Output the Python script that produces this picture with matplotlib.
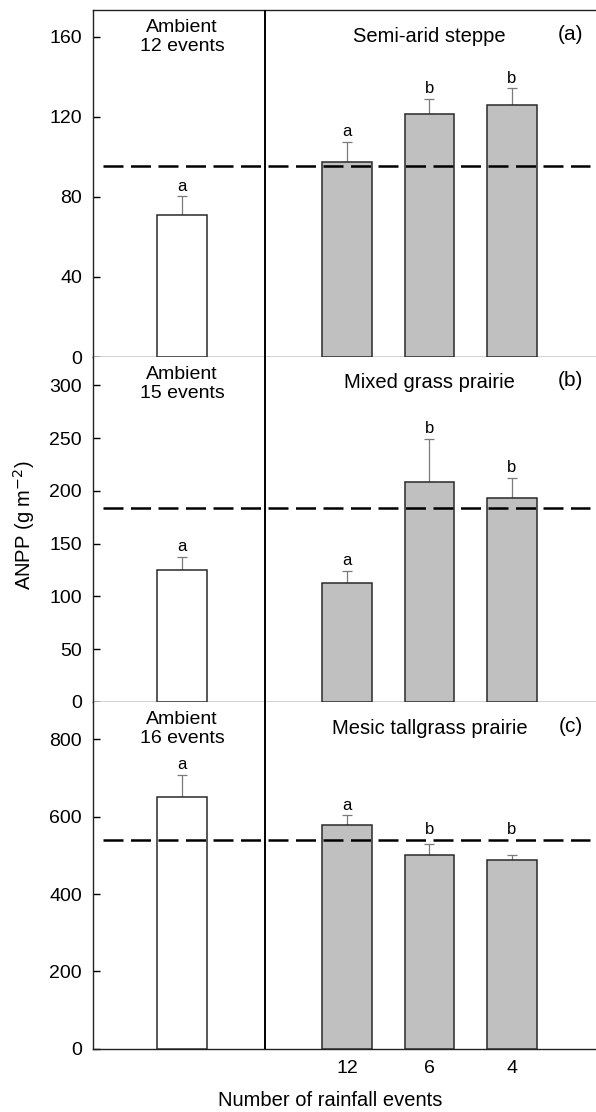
import matplotlib
matplotlib.use("Agg")
import matplotlib.pyplot as plt

plt.rcParams["font.family"] = ["Liberation Sans", "DejaVu Sans"]

# values
sites = ["Semi-arid steppe", "Mixed grass prairie", "Mesic tallgrass prairie"]
panel_tags = ["(a)", "(b)", "(c)"]
ambient_events = [12, 15, 16]
ambient_mean = [70.8, 125.2, 650.3]
ambient_se = [9.5, 12.0, 58.7]
ambient_letter = ["a", "a", "a"]
treatment_events = ["12", "6", "4"]
treatment_mean = [[97.2, 121.2, 126.0],
                  [112.6, 208.4, 193.2],
                  [579.5, 500.0, 488.0]]
treatment_se = [[10.3, 7.6, 8.2],
                [11.6, 41.0, 19.0],
                [24.0, 29.5, 13.8]]
treatment_letters = [["a", "b", "b"],
                     ["a", "b", "b"],
                     ["a", "b", "b"]]
baseline = [95.3, 183.7, 540.7]
y_top = [173.4, 327.0, 897.0]
y_ticks = [[0, 40, 80, 120, 160],
           [0, 50, 100, 150, 200, 250, 300],
           [0, 200, 400, 600, 800]]

W, H = 596, 1112
fig = plt.figure(figsize=(W / 100, H / 100), dpi=100)

# panel boxes in pixels (top, bottom)
rows = [(10, 357), (357, 702), (702, 1048.7)]
left_px = 93
px_per_pt = 100 / 72.0

edge = "#2a2a2a"
for i, (top, bottom) in enumerate(rows):
    ax = fig.add_axes([left_px / W, 1 - bottom / H,
                       (W - left_px) / W, (bottom - top) / H])
    ax.set_xlim(-1.08, 5.02)
    ax.set_ylim(0, y_top[i])

    # ambient bar
    ax.bar([0], [ambient_mean[i]], width=0.6, color="white",
           edgecolor=edge, linewidth=1.1, zorder=3)
    ax.errorbar([0], [ambient_mean[i]], yerr=[[0], [ambient_se[i]]],
                fmt="none", ecolor="#7a7a7a", elinewidth=0.9,
                capsize=3.5, capthick=0.9, zorder=2)

    # treatment bars
    pos = [2, 3, 4]
    ax.bar(pos, treatment_mean[i], width=0.6, color="#c0c0c0",
           edgecolor=edge, linewidth=1.1, zorder=3)
    ax.errorbar(pos, treatment_mean[i],
                yerr=[[0, 0, 0], treatment_se[i]],
                fmt="none", ecolor="#7a7a7a", elinewidth=0.9,
                capsize=3.5, capthick=0.9, zorder=2)

    # letters
    ax.annotate(ambient_letter[i],
                (0, ambient_mean[i] + ambient_se[i]),
                xytext=(0, 2), textcoords="offset points",
                ha="center", va="bottom", fontsize=12)
    for p, m, s, lab in zip(pos, treatment_mean[i], treatment_se[i],
                            treatment_letters[i]):
        y = m + s
        if y < baseline[i] and baseline[i] - y < 0.06 * y_top[i]:
            y = baseline[i]
        ax.annotate(lab, (p, y), xytext=(0, 2),
                    textcoords="offset points",
                    ha="center", va="bottom", fontsize=12)

    # long-term mean line and divider
    ax.hlines(baseline[i], -0.96, 4.95, colors="black", linewidth=1.8,
              linestyles=(0, (8, 3)), zorder=4)
    ax.axvline(1.0, color="black", linewidth=1.4, zorder=5)

    # labels inside the panel
    ax.annotate("Ambient\n%d events" % ambient_events[i], (0, 1),
                xycoords=("data", "axes fraction"),
                xytext=(0, -27 / px_per_pt), textcoords="offset points",
                ha="center", va="center", fontsize=14, linespacing=1.1)
    ax.annotate(sites[i], (3, 1), xycoords=("data", "axes fraction"),
                xytext=(0, -26 / px_per_pt), textcoords="offset points",
                ha="center", va="center", fontsize=14.5)
    ax.annotate(panel_tags[i], (4.86, 1), xycoords=("data", "axes fraction"),
                xytext=(0, -24 / px_per_pt), textcoords="offset points",
                ha="right", va="center", fontsize=15)

    ax.set_yticks(y_ticks[i])
    ax.tick_params(axis="y", direction="in", length=5, width=1.0,
                   pad=8, labelsize=14)
    if i == 2:
        ax.set_xticks(pos)
        ax.set_xticklabels(treatment_events)
        ax.tick_params(axis="x", length=0, pad=8, labelsize=14)
    else:
        ax.set_xticks([])

    ax.spines["right"].set_visible(False)
    if i > 0:
        ax.spines["top"].set_visible(False)
    for side in ["left", "bottom", "top"]:
        ax.spines[side].set_linewidth(1.0)
        ax.spines[side].set_color("#222222")

fig.text(24 / W, 1 - 525 / H, "ANPP (g m$^{-2}$)", rotation=90,
         ha="center", va="center", fontsize=14.5)
fig.text(330 / W, 1 - 1101 / H, "Number of rainfall events",
         ha="center", va="center", fontsize=14.5)

fig.savefig("out.png", dpi=100)
